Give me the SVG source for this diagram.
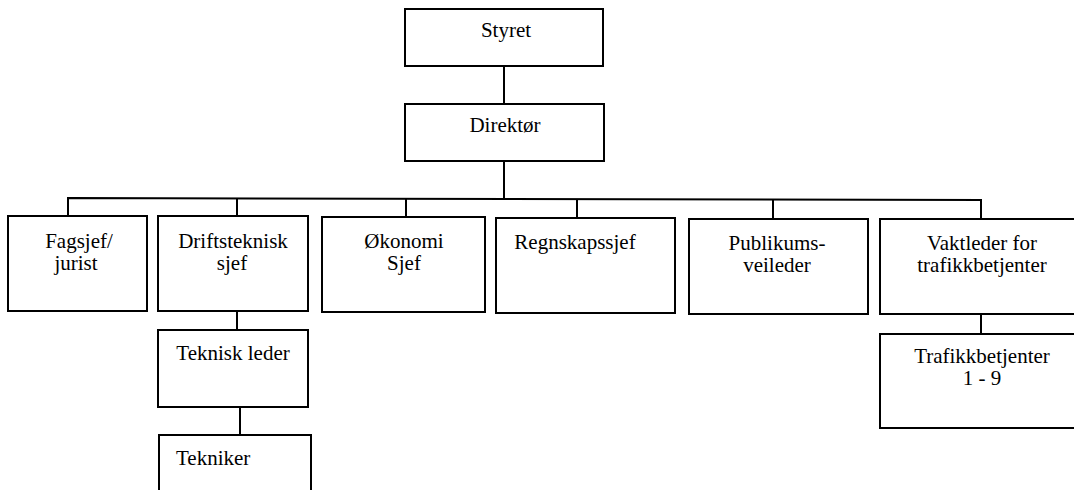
<svg xmlns="http://www.w3.org/2000/svg" width="1074" height="490" viewBox="0 0 1074 490">
<rect width="1074" height="490" fill="#fff"/>
<g id="connectors" fill="none" stroke="#000" stroke-width="2">
<line x1="504" y1="66" x2="504" y2="104"/>
<line x1="504" y1="161" x2="504" y2="199"/>
<polyline points="68,216 68,198 981,200 981,219"/>
<line x1="237" y1="198" x2="237" y2="216"/>
<line x1="406" y1="199" x2="406" y2="217"/>
<line x1="577" y1="199" x2="577" y2="218"/>
<line x1="773" y1="200" x2="773" y2="219"/>
<line x1="237" y1="311" x2="237" y2="330"/>
<line x1="240" y1="407" x2="240" y2="435"/>
<line x1="981" y1="314" x2="981" y2="334"/>
</g>
<g id="styret"><rect fill="#fff" stroke="#000" stroke-width="2" x="405" y="9" width="198" height="57"/><text font-family="Liberation Serif" font-size="21" text-anchor="middle" x="506" y="37">Styret</text></g>
<g id="direktor"><rect fill="#fff" stroke="#000" stroke-width="2" x="405" y="104" width="199" height="57"/><text font-family="Liberation Serif" font-size="21" text-anchor="middle" x="505" y="132">Direktør</text></g>
<g id="fagsjef"><rect fill="#fff" stroke="#000" stroke-width="2" x="8" y="216" width="139" height="95"/><text font-family="Liberation Serif" font-size="21" text-anchor="middle" x="79" y="248">Fagsjef/</text><text font-family="Liberation Serif" font-size="21" text-anchor="middle" x="76" y="270">jurist</text></g>
<g id="driftsteknisk"><rect fill="#fff" stroke="#000" stroke-width="2" x="158" y="216" width="150" height="95"/><text font-family="Liberation Serif" font-size="21" text-anchor="middle" x="233" y="248">Driftsteknisk</text><text font-family="Liberation Serif" font-size="21" text-anchor="middle" x="232" y="270">sjef</text></g>
<g id="okonomi"><rect fill="#fff" stroke="#000" stroke-width="2" x="322" y="217" width="163" height="95"/><text font-family="Liberation Serif" font-size="21" text-anchor="middle" x="404" y="248">Økonomi</text><text font-family="Liberation Serif" font-size="21" text-anchor="middle" x="404" y="270">Sjef</text></g>
<g id="regnskapssjef"><rect fill="#fff" stroke="#000" stroke-width="2" x="496" y="218" width="179" height="95"/><text font-family="Liberation Serif" font-size="21" text-anchor="middle" x="575" y="249">Regnskapssjef</text></g>
<g id="publikum"><rect fill="#fff" stroke="#000" stroke-width="2" x="689" y="219" width="179" height="95"/><text font-family="Liberation Serif" font-size="21" text-anchor="middle" x="777" y="250">Publikums-</text><text font-family="Liberation Serif" font-size="21" text-anchor="middle" x="777" y="272">veileder</text></g>
<g id="vaktleder"><rect fill="#fff" stroke="#000" stroke-width="2" x="880" y="219" width="210" height="95"/><text font-family="Liberation Serif" font-size="21" text-anchor="middle" x="982" y="250">Vaktleder for</text><text font-family="Liberation Serif" font-size="21" text-anchor="middle" x="982" y="272">trafikkbetjenter</text></g>
<g id="teknisk-leder"><rect fill="#fff" stroke="#000" stroke-width="2" x="158" y="330" width="150" height="77"/><text font-family="Liberation Serif" font-size="21" text-anchor="middle" x="233" y="360">Teknisk leder</text></g>
<g id="tekniker"><rect fill="#fff" stroke="#000" stroke-width="2" x="159" y="435" width="152" height="70"/><text font-family="Liberation Serif" font-size="21" x="176" y="465">Tekniker</text></g>
<g id="trafikkbetjenter"><rect fill="#fff" stroke="#000" stroke-width="2" x="880" y="334" width="210" height="94"/><text font-family="Liberation Serif" font-size="21" text-anchor="middle" x="982" y="363">Trafikkbetjenter</text><text font-family="Liberation Serif" font-size="21" text-anchor="middle" x="982" y="385">1 - 9</text></g>
</svg>
